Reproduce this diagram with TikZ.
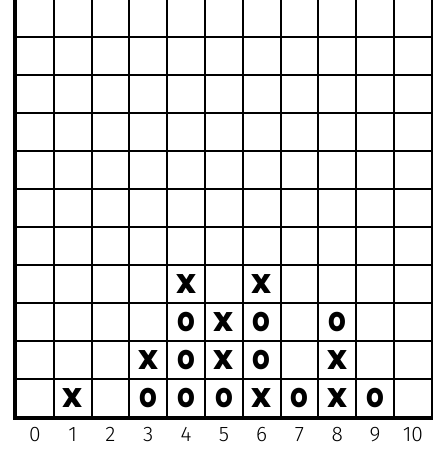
\documentclass[tikz,border=0pt]{standalone}
\usepackage{fontspec}
\setmainfont{Liberation Sans}
\newfontfamily\lblfont{Fira Sans Light}
\newfontfamily\symfont{Poppins}
\begin{document}
\begin{tikzpicture}[x=1pt,y=-1pt,
  gridline/.style={line width=2pt,black},
  axisline/.style={line width=4pt,black},
  xsym/.style={inner sep=0pt,font=\symfont\bfseries\fontsize{34}{34}\selectfont},
  osym/.style={inner sep=0pt,font=\symfont\bfseries\fontsize{34}{34}\selectfont},
  axlabel/.style={inner sep=0pt,font=\lblfont\fontsize{21}{21}\selectfont}]
\useasboundingbox (0,0) rectangle (435,451);
\fill[white] (0,0) rectangle (435,451);
% vertical grid lines
\foreach \i in {1,...,11}
  \draw[gridline] ({16+37.8*\i},-2) -- ({16+37.8*\i},417);
% horizontal grid lines
\foreach \k in {1,...,10}
  \draw[gridline] (16,{417-38*\k}) -- (432.8,{417-38*\k});
% axes
\draw[axisline] (15.3,-2) -- (15.3,418.2) -- (433,418.2);
% X marks
\foreach \c/\r in {1/0,6/0,8/0,3/1,5/1,8/1,5/2,4/3,6/3}
  \node[xsym] (xm-\c-\r) at ({16+37.8*(\c+0.5)},{417-38*(\r+0.5)}) {x};
% O marks
\foreach \c/\r in {3/0,4/0,5/0,7/0,9/0,4/1,6/1,4/2,6/2,8/2}
  \node[osym] (om-\c-\r) at ({16+37.8*(\c+0.5)},{417-38*(\r+0.5)}) {\scalebox{0.82}[1]{o}};
% axis labels
\foreach \i in {0,...,10}
  \node[axlabel] (lbl-\i) at ({16+37.8*(\i+0.5)},434.5) {\i};
\end{tikzpicture}
\end{document}
